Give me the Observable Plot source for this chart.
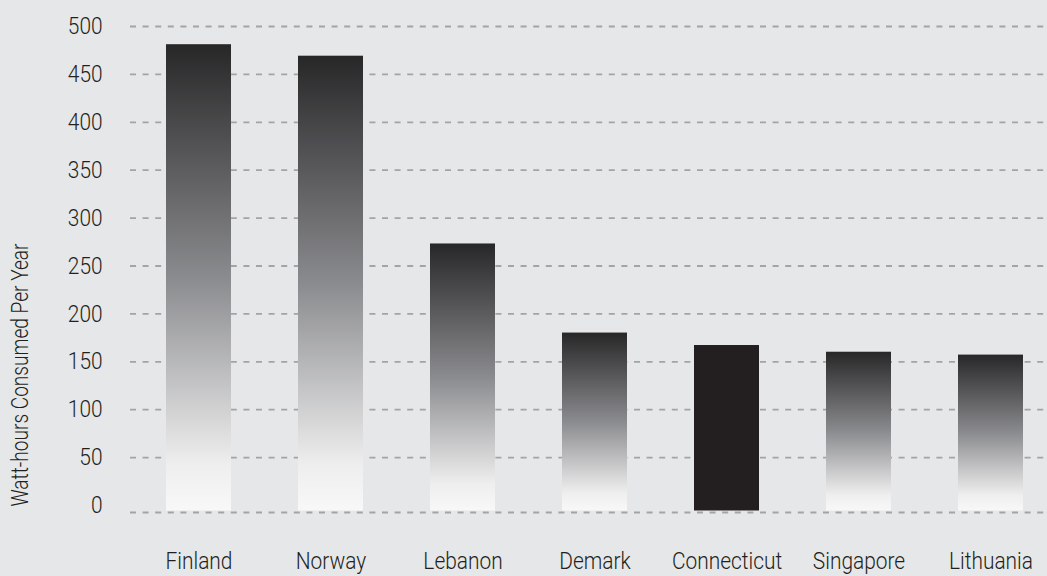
<!DOCTYPE html>
<html><head><meta charset="utf-8">
<script src="https://cdn.jsdelivr.net/npm/d3@7"></script>
<script src="https://cdn.jsdelivr.net/npm/@observablehq/plot@0.6"></script>
<style>
html,body{margin:0;padding:0;background:#e6e7e9;}
</style></head><body><div id="chart"></div>
<script>
const countries = ["Finland", "Norway", "Lebanon", "Demark", "Connecticut", "Singapore", "Lithuania"];
const values = [481, 469, 273, 180, 167, 160, 157];
const yTicks = [0, 50, 100, 150, 200, 250, 300, 350, 400, 450, 500];
const yTitle = "Watt-hours Consumed Per Year";
const highlight = "Connecticut";

const data = countries.map((c, i) => ({country: c, value: values[i]}));
const font = `Roboto, "Liberation Sans", Arial, sans-serif`;
const gridStyle = {stroke: "#a3a4a6", strokeWidth: 1.8, strokeDasharray: "6,6.6"};

const chart = Plot.plot({
  width: 1047, height: 576,
  marginLeft: 130, marginRight: 0, marginTop: 26, marginBottom: 71,
  style: {background: "#e6e7e9", fontFamily: font, fontWeight: 300, color: "#231f20"},
  x: {domain: countries, range: [163, 1025], paddingInner: 0.51, paddingOuter: 0},
  y: {domain: [0, 500]},
  marks: [
    Plot.ruleY(yTicks.filter(d => d > 0), gridStyle),
    Plot.barY(data.filter(d => d.country !== highlight), {x: "country", y: "value", fill: "url(#barGradient)", insetBottom: -5.5}),
    Plot.barY(data.filter(d => d.country === highlight), {x: "country", y: "value", fill: "#231f20", insetBottom: -5.5}),
    Plot.ruleY([0], {dy: 7, ...gridStyle}),
    Plot.axisY(yTicks, {tickSize: 0, tickPadding: 28, fontSize: 24, label: null}),
    Plot.axisX({tickSize: 0, tickPadding: 46, fontSize: 24, label: null}),
    Plot.text([yTitle], {text: d => d, frameAnchor: "left", textAnchor: "middle", lineAnchor: "middle",
      rotate: -90, dx: -110, dy: 109, fontSize: 23, className: "ytitle"})
  ]
});

const svg = d3.select(chart);
const grad = svg.insert("defs", ":first-child")
  .append("linearGradient").attr("id", "barGradient")
  .attr("x1", 0).attr("y1", 0).attr("x2", 0).attr("y2", 1);
[[0, "#282728"], [0.5, "#8a8b8e"], [0.9, "#eeeeee"], [1, "#f8f8f8"]].forEach(([o, c]) =>
  grad.append("stop").attr("offset", o).attr("stop-color", c));

document.getElementById("chart").appendChild(chart);

// condensed typeface look: compress glyphs horizontally
svg.selectAll("text").each(function() {
  const isTitle = this.closest(".ytitle") !== null;
  const ratio = isTitle ? 0.83 : 0.87;
  const len = this.getComputedTextLength();
  if (len > 0) {
    this.setAttribute("textLength", (len * ratio).toFixed(1));
    this.setAttribute("lengthAdjust", "spacingAndGlyphs");
  }
});
</script></body></html>
